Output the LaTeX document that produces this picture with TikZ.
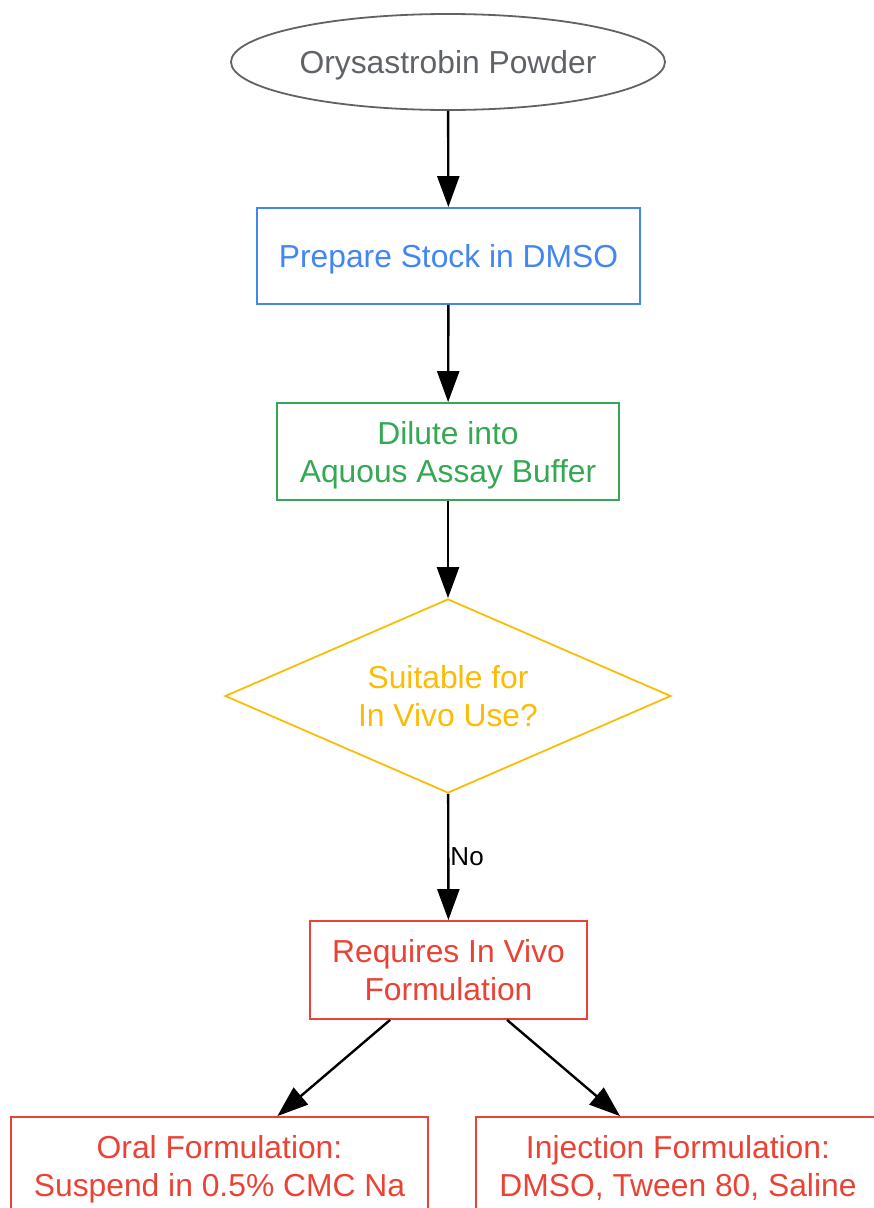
\documentclass[tikz,border=0pt]{standalone}
\usepackage{fontspec}
\setmainfont{Liberation Sans}
\usetikzlibrary{shapes.geometric,arrows.meta}
\definecolor{gtgray}{HTML}{5F6368}
\definecolor{gtblue}{HTML}{4285F4}
\definecolor{gtgreen}{HTML}{34A853}
\definecolor{gtyellow}{HTML}{FBBC05}
\definecolor{gtred}{HTML}{EA4335}
\begin{document}
\begin{tikzpicture}[x=1pt,y=-1pt,
  every node/.style={font=\fontsize{31.8}{38}\selectfont, align=center, inner sep=2pt},
  oneline/.style={text height=23pt, text depth=0pt},
  twoline/.style={text height=61pt, text depth=0pt},
  box/.style={draw, line width=1.8pt, rectangle},
  arr/.style={line width=2.4pt, -{Triangle[length=31pt,width=22pt]}}]
\useasboundingbox (0,0) rectangle (874,1208);
\node [ellipse, oneline, draw=gtgray, text=gtgray, line width=1.8pt, minimum width=434pt, minimum height=96pt] (powder) at (448,62) {Orysastrobin Powder};
\node [box, oneline, draw=gtblue, text=gtblue, minimum width=383pt, minimum height=96pt] (stock) at (448.5,256) {Prepare Stock in DMSO};
\node [box, twoline, draw=gtgreen, text=gtgreen, minimum width=342pt, minimum height=97pt] (dilute) at (448,451.5) {Dilute into\\Aquous Assay Buffer};
\node [diamond, twoline, draw=gtyellow, text=gtyellow, line width=1.8pt, aspect=2.3, inner sep=0pt, minimum width=446pt, minimum height=194pt] (suit) at (448,696) {Suitable for\\In Vivo Use?};
\node [box, twoline, draw=gtred, text=gtred, minimum width=277pt, minimum height=98pt] (req) at (448.5,970) {Requires In Vivo\\Formulation};
\node [box, twoline, draw=gtred, text=gtred, minimum width=417pt, minimum height=97pt] (oral) at (219.5,1165.5) {Oral Formulation:\\Suspend in 0.5\% CMC Na};
\node [box, twoline, draw=gtred, text=gtred, minimum width=404pt, minimum height=97pt] (inj) at (678,1165.5) {Injection Formulation:\\DMSO, Tween 80, Saline};
\draw [arr] (powder) -- (stock);
\draw [arr] (stock) -- (dilute);
\draw [arr] (dilute) -- (suit);
\draw [arr] (suit) -- node [right, inner sep=1pt, font=\fontsize{26}{30}\selectfont] (no) {No} (req);
\draw [arr] (req) -- (oral);
\draw [arr] (req) -- (inj);
\end{tikzpicture}
\end{document}
